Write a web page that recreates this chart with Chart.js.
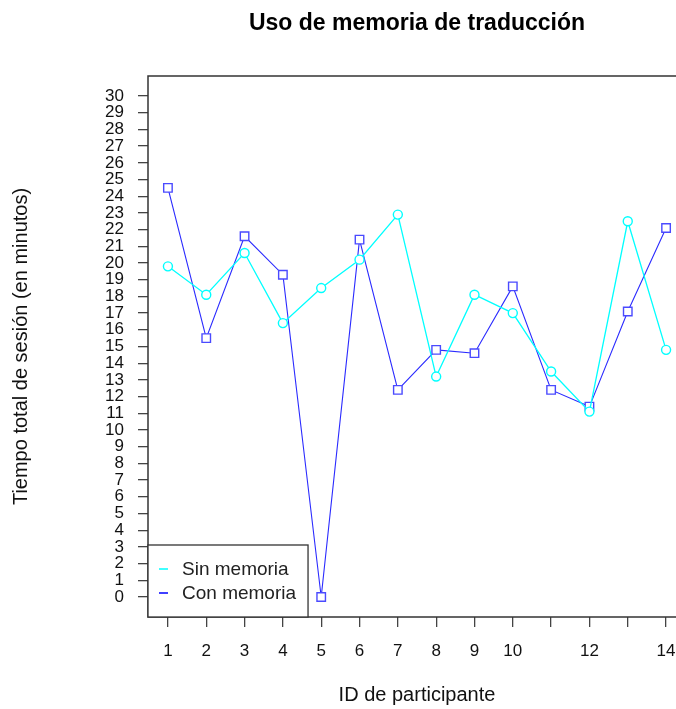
<!DOCTYPE html>
<html>
<head>
<meta charset="utf-8">
<script src="https://cdn.jsdelivr.net/npm/chart.js@4/dist/chart.umd.min.js"></script>
<style>
  body { margin:0; background:#fff; overflow:hidden; }
  #wrap { position:relative; width:676px; height:709px; overflow:hidden; }
  canvas { position:absolute; left:0; top:0; }
</style>
</head>
<body>
<div id="wrap"><canvas id="memChart" width="700" height="709"></canvas></div>
<script>
const participants = [1,2,3,4,5,6,7,8,9,10,11,12,13,14];
const sinMemoria = [19.8, 18.1, 20.6, 16.4, 18.5, 20.2, 22.9, 13.2, 18.1, 17.0, 13.5, 11.1, 22.5, 14.8];
const conMemoria = [24.5, 15.5, 21.6, 19.3, 0, 21.4, 12.4, 14.8, 14.6, 18.6, 12.4, 11.4, 17.1, 22.1];
const xTicks = [1,2,3,4,5,6,7,8,9,10,11,12,13,14];
const xTickLabels = ["1","2","3","4","5","6","7","8","9","10","","12","","14"];
const yTicks = [0,1,2,3,4,5,6,7,8,9,10,11,12,13,14,15,16,17,18,19,20,21,22,23,24,25,26,27,28,29,30];
const seriesNames = ["Sin memoria", "Con memoria"];
const seriesColors = ["#00ffff", "#0000ff"];
const chartTitle = "Uso de memoria de traducción";

const fontFamily = '"Liberation Sans", Arial, Helvetica, sans-serif';
const axisColor = "#333";

function toPoints(values) {
  return values.map((v,i)=>{
    return {x:participants[i], y:v};
  });
}

// box round the plot, title and legend, drawn the R way
const rStylePlugin = {
  id:"rStyle",
  afterDraw(chart) {
    const ctx = chart.ctx;
    const area = chart.chartArea;
    ctx.save();
    ctx.strokeStyle = axisColor;
    ctx.lineWidth = 1.5;
    ctx.strokeRect(area.left, area.top, area.right-area.left, area.bottom-area.top);

    ctx.fillStyle = "#000";
    ctx.font = "bold 23px " + fontFamily;
    ctx.textAlign = "center";
    ctx.textBaseline = "alphabetic";
    ctx.fillText(chartTitle, (area.left+area.right)/2, 30);

    // legend bottom left
    ctx.font = "19px " + fontFamily;
    let maxW = 0;
    seriesNames.forEach(n=>{ maxW = Math.max(maxW, ctx.measureText(n).width); });
    const boxLeft = area.left;
    const boxBottom = area.bottom;
    const boxTop = boxBottom - 72;
    const textX = boxLeft + 34;
    const boxRight = textX + maxW + 12;
    ctx.fillStyle = "#fff";
    ctx.fillRect(boxLeft, boxTop, boxRight-boxLeft, boxBottom-boxTop);
    ctx.strokeStyle = axisColor;
    ctx.lineWidth = 1.3;
    ctx.strokeRect(boxLeft, boxTop, boxRight-boxLeft, boxBottom-boxTop);
    ctx.textAlign = "left";
    ctx.textBaseline = "middle";
    for(let i=0;i<seriesNames.length;i++) {
      const y = boxTop + 24 + i*24;
      ctx.strokeStyle = seriesColors[i];
      ctx.lineWidth = 1.5;
      ctx.beginPath();
      ctx.moveTo(boxLeft+11, y);
      ctx.lineTo(boxLeft+20, y);
      ctx.stroke();
      ctx.fillStyle = "#222";
      ctx.fillText(seriesNames[i], textX, y+1);
    }
    ctx.restore();
  }
};

const ctx = document.getElementById("memChart").getContext("2d");
const chart = new Chart(ctx, {
  type:"line",
  data:{
    datasets:[{
      label:seriesNames[0],
      data:toPoints(sinMemoria),
      borderColor:seriesColors[0],
      borderWidth:1.3,
      pointStyle:"circle",
      pointRadius:4.5,
      pointBorderWidth:1.4,
      pointBorderColor:seriesColors[0],
      pointBackgroundColor:"#fff",
      tension:0
    },{
      label:seriesNames[1],
      data:toPoints(conMemoria),
      borderColor:"#2a2aff",
      borderWidth:1.1,
      pointStyle:"rect",
      pointRadius:6,
      pointBorderWidth:1.4,
      pointBorderColor:"#4a4aff",
      pointBackgroundColor:"#fff",
      tension:0
    }]
  },
  options:{
    responsive:false,
    animation:false,
    devicePixelRatio:1,
    layout:{ padding:{ top:76, right:14, left:0, bottom:0 } },
    plugins:{
      legend:{ display:false },
      tooltip:{ enabled:false },
      title:{ display:false }
    },
    scales:{
      x:{
        type:"linear",
        min:0.48,
        max:14.52,
        afterBuildTicks:(scale)=>{ scale.ticks = xTicks.map(v=>({value:v})); },
        afterFit:(scale)=>{ scale.height = 92; },
        grid:{ drawOnChartArea:false, drawTicks:true, tickLength:10, color:"#444", lineWidth:1.3 },
        border:{ display:false },
        ticks:{
          autoSkip:false,
          maxRotation:0,
          padding:14,
          color:"#111",
          font:{ family:fontFamily, size:17 },
          callback:(value, index)=>xTickLabels[index]
        },
        title:{
          display:true,
          text:"ID de participante",
          color:"#111",
          font:{ family:fontFamily, size:20 },
          padding:{ top:0, bottom:2 }
        }
      },
      y:{
        min:-1.2,
        max:31.2,
        afterBuildTicks:(scale)=>{ scale.ticks = yTicks.map(v=>({value:v})); },
        afterFit:(scale)=>{ scale.width = 148; },
        grid:{ drawOnChartArea:false, drawTicks:true, tickLength:10, color:"#444", lineWidth:1.3 },
        border:{ display:false },
        ticks:{
          autoSkip:false,
          padding:14,
          color:"#111",
          font:{ family:fontFamily, size:17 },
          callback:(value)=>String(value)
        },
        title:{
          display:true,
          text:"Tiempo total de sesión (en minutos)",
          color:"#111",
          font:{ family:fontFamily, size:20 },
          padding:{ top:9, bottom:0 }
        }
      }
    }
  },
  plugins:[rStylePlugin]
});
</script>
</body>
</html>
